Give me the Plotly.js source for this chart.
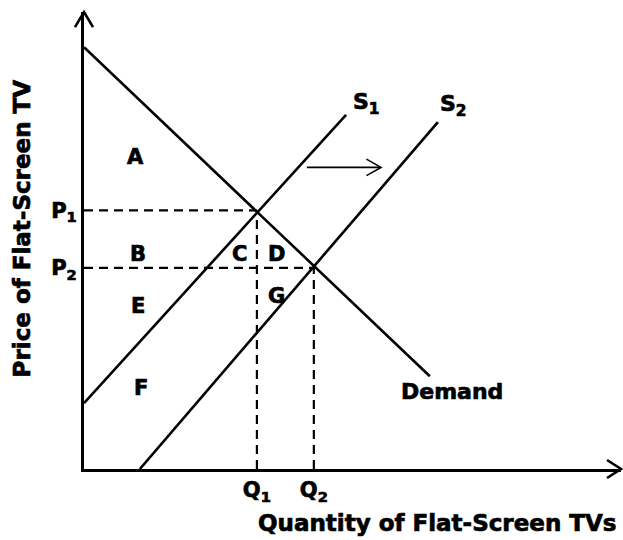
<!DOCTYPE html>
<html>
<head>
<meta charset="utf-8">
<script src="https://cdn.plot.ly/plotly-3.0.1.min.js"></script>
<style>
html,body{margin:0;padding:0;background:#fff}
#chart{width:623px;height:540px}
#chart text{stroke:#000;stroke-width:0.7px}
</style>
</head>
<body>
<div id="chart"></div>
<script>
// Data (quantity, price)
const demandQ = [0, 6.44];
const demandP = [9.23, 2.03];
const s1Q = [0, 4.88];
const s1P = [1.44, 7.75];
const s2Q = [1.04, 6.59];
const s2P = [0, 7.59];
const eqQ = [3.22, 4.28];   // Q1, Q2
const eqP = [5.66, 4.40];   // P1, P2
const qLabels = ['Q<sub>1</sub>', 'Q<sub>2</sub>'];
const pLabels = ['P<sub>1</sub>', 'P<sub>2</sub>'];
const areaLabels = ['A', 'B', 'C', 'D', 'E', 'G', 'F'];
const areaQ = [0.95, 1.0, 2.9, 3.58, 1.0, 3.58, 1.06];
const areaP = [6.83, 4.70, 4.70, 4.70, 3.57, 3.79, 1.77];

const FONT = 'DejaVu Sans, Liberation Sans, sans-serif';
const solid = {color: '#000', width: 2.6};
const dashed = {color: '#000', width: 2.2, dash: '9px,6px'};

const traces = [];
// dashed guide lines
for (let i = 0; i < eqQ.length; i++) {
  traces.push({x: [0, eqQ[i]], y: [eqP[i], eqP[i]], mode: 'lines', line: dashed, hoverinfo: 'skip'});
  traces.push({x: [eqQ[i], eqQ[i]], y: [0, eqP[i]], mode: 'lines', line: dashed, hoverinfo: 'skip'});
}
traces.push({x: demandQ, y: demandP, mode: 'lines', line: solid, name: 'Demand'});
traces.push({x: s1Q, y: s1P, mode: 'lines', line: solid, name: 'S1'});
traces.push({x: s2Q, y: s2P, mode: 'lines', line: solid, name: 'S2'});

const annotations = [];
for (let i = 0; i < areaLabels.length; i++) {
  annotations.push({x: areaQ[i], y: areaP[i], text: '<b>' + areaLabels[i] + '</b>', showarrow: false,
    font: {family: FONT, size: 21, color: '#000'}});
}
annotations.push({x: s1Q[1] + 0.38, y: s1P[1] + 0.25, text: '<b>S<sub>1</sub></b>', showarrow: false, font: {family: FONT, size: 22, color: '#000'}});
annotations.push({x: s2Q[1] + 0.30, y: s2P[1] + 0.37, text: '<b>S<sub>2</sub></b>', showarrow: false, font: {family: FONT, size: 22, color: '#000'}});
annotations.push({x: demandQ[1] + 0.42, y: demandP[1] - 0.33, text: '<b>Demand</b>', showarrow: false, font: {family: FONT, size: 22, color: '#000'}});
annotations.push({xref: 'paper', yref: 'paper', x: 0.657, y: -0.118, text: '<b>Quantity of Flat-Screen TVs</b>',
  showarrow: false, font: {family: FONT, size: 23, color: '#000'}, xanchor: 'center', yanchor: 'middle'});
annotations.push({xref: 'paper', yref: 'paper', x: -0.115, y: 0.527, text: '<b>Price of Flat-Screen TV</b>', textangle: -90,
  showarrow: false, font: {family: FONT, size: 23, color: '#000'}, xanchor: 'center', yanchor: 'middle'});

// arrowheads (open chevrons) for axes and shift arrow
const shapes = [
  {type: 'path', xref: 'paper', yref: 'paper', path: 'M 0.974 0.0197 L 1 0 L 0.974 -0.0197', line: {color: '#000', width: 2.6}},
  {type: 'path', xref: 'paper', yref: 'paper', path: 'M -0.0168 0.967 L 0 1 L 0.0168 0.967', line: {color: '#000', width: 2.6}},
  {type: 'line', xref: 'x', yref: 'y', x0: 4.15, x1: 5.53, y0: 6.6, y1: 6.6, line: {color: '#000', width: 1.6}},
  {type: 'path', xref: 'x', yref: 'y', path: `M ${5.53 - 0.27} ${6.6 + 0.18} L 5.53 6.6 L ${5.53 - 0.27} ${6.6 - 0.18}`, line: {color: '#000', width: 1.6}}
];

const layout = {
  width: 623, height: 540,
  margin: {l: 84, r: 2, t: 12, b: 71},
  paper_bgcolor: '#fff', plot_bgcolor: '#fff',
  showlegend: false,
  xaxis: {range: [0, 10], showgrid: false, zeroline: false, showline: true, linecolor: '#000', linewidth: 3,
    tickmode: 'array', tickvals: eqQ, ticktext: qLabels.map(t => '<b>' + t + '</b>'), ticks: '',
    tickfont: {family: FONT, size: 21, color: '#000'}, fixedrange: true},
  yaxis: {range: [0, 10], showgrid: false, zeroline: false, showline: true, linecolor: '#000', linewidth: 3,
    tickmode: 'array', tickvals: eqP, ticktext: pLabels.map(t => '<b>' + t + '</b>'), ticks: '',
    tickfont: {family: FONT, size: 21, color: '#000'}, fixedrange: true},
  annotations: annotations,
  shapes: shapes
};

Plotly.newPlot('chart', traces, layout, {displayModeBar: false, staticPlot: true});
</script>
</body>
</html>
